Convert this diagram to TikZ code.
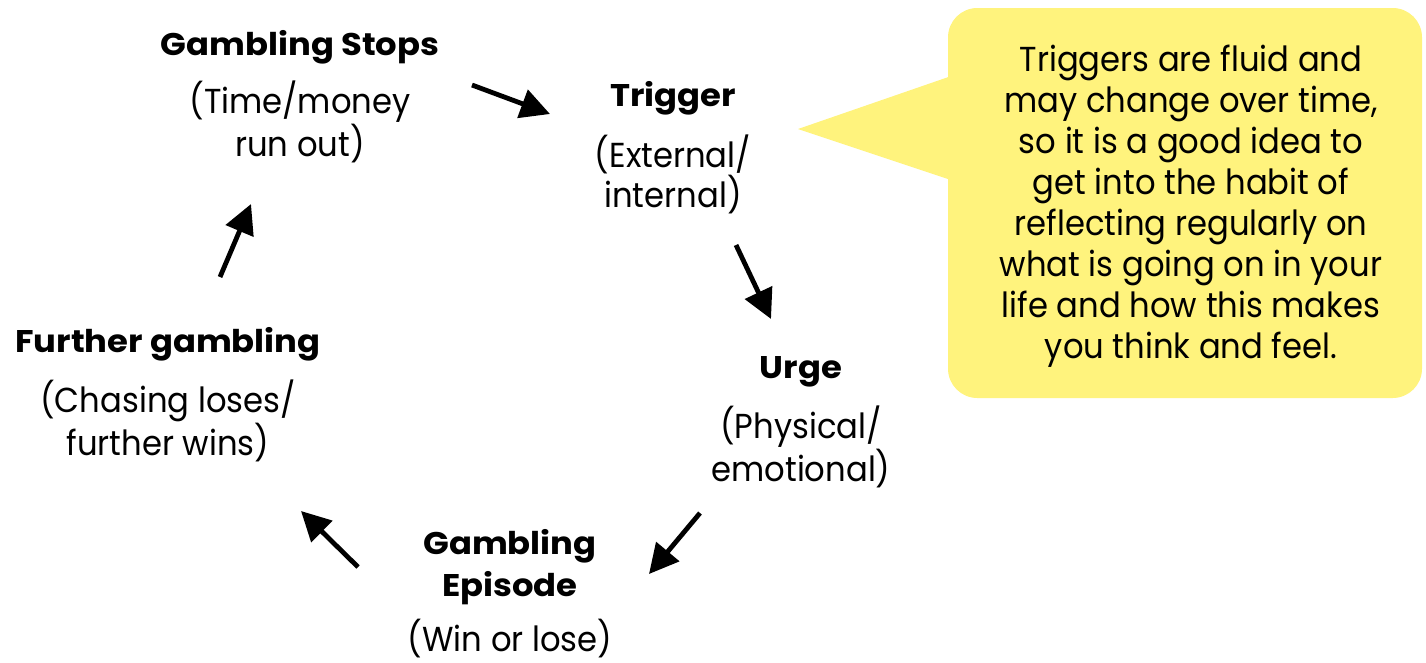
\documentclass[tikz,border=0pt]{standalone}
\usepackage{fontspec}
\setmainfont{Poppins}[FakeStretch=0.93]
\newfontfamily\boldfam{Poppins}[FakeStretch=1.08,UprightFont=* Bold]
\usetikzlibrary{arrows.meta}
\definecolor{callout}{RGB}{255,243,125}
\begin{document}
\begin{tikzpicture}[x=0.75pt,y=-0.75pt,
  title/.style={font=\boldfam\fontsize{23.5}{31}\selectfont, align=center, inner sep=0pt, anchor=center},
  sub/.style={font=\fontsize{26}{30}\selectfont, align=center, inner sep=0pt, anchor=center},
  flow/.style={line width=3.6pt, -{Triangle[length=22pt,width=22pt]}, shorten >=0pt}
]
\useasboundingbox (0,0) rectangle (1426,662);
% callout
\fill[callout, rounded corners=22pt] (948,8) rectangle (1422,398);
\fill[callout] (798,129) -- (960,73) -- (960,183) -- cycle;
\node[font=\fontsize{26}{30.75}\selectfont, align=center, inner sep=0pt] (note) at (1191,206)
 {Triggers are fluid and\\may change over time,\\so it is a good idea to\\get into the habit of\\reflecting regularly on\\what is going on in your\\life and how this makes\\you think and feel.};
% labels
\node[title] (stopT) at (300,47) {Gambling Stops};
\node[sub] (stopS) at (300,122) {(Time/money\\run out)};
\node[title] (trigT) at (673,98) {Trigger};
\node[sub] (trigS) at (673,174) {(External/\\internal)};
\node[title] (urgeT) at (801,372) {Urge};
\node[sub] (urgeS) at (801,447) {(Physical/\\emotional)};
\node[title] (epiT) at (510,567) {Gambling\\Episode};
\node[sub] (epiS) at (510,639) {(Win or lose)};
\node[title] (furT) at (168,344) {Further gambling};
\node[sub] (furS) at (168,421) {(Chasing loses/\\further wins)};
% arrows
\coordinate (a1s) at (472,85);  \coordinate (a1e) at (550,114);
\coordinate (a2s) at (736,245); \coordinate (a2e) at (771,319);
\coordinate (a3s) at (700,513); \coordinate (a3e) at (649,574);
\coordinate (a4s) at (358,567); \coordinate (a4e) at (301,511);
\coordinate (a5s) at (220,277); \coordinate (a5e) at (251,204);
\draw[flow] (a1s) -- (a1e);
\draw[flow] (a2s) -- (a2e);
\draw[flow] (a3s) -- (a3e);
\draw[flow] (a4s) -- (a4e);
\draw[flow] (a5s) -- (a5e);
\end{tikzpicture}
\end{document}
